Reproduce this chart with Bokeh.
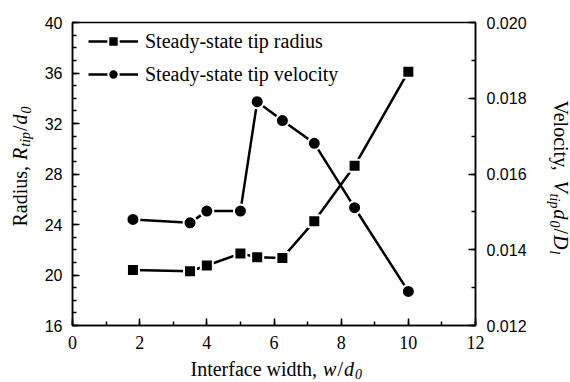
import math
from bokeh.plotting import figure
from bokeh.layouts import row, column
from bokeh.models import (Range1d, LinearAxis, SingleIntervalTicker, NumeralTickFormatter,
                          Label, Legend)
from bokeh.embed import file_html
from bokeh.resources import INLINE

# ---------------- data ----------------
interface_width = [1.8, 3.5, 4.0, 5.0, 5.5, 6.25, 7.2, 8.4, 10.0]
tip_radius = [20.4, 20.3, 20.75, 21.7, 21.4, 21.35, 24.25, 28.65, 36.1]
tip_velocity = [0.0148, 0.01471, 0.01502, 0.01502, 0.01791, 0.01741, 0.01681, 0.01511, 0.01290]
series_names = ["Steady-state tip radius", "Steady-state tip velocity"]

X0, X1 = 0, 12
Y0, Y1 = 16, 40
V0, V1 = 0.012, 0.020

# ---------------- layout (canvas px) ----------------
W, H = 570, 382
SIDE_L, SIDE_R = 40, 40          # strips for the rotated axis titles
MAIN_W = W - SIDE_L - SIDE_R     # 490
MAIN_H = 358
BOT_H = H - MAIN_H               # strip for the x axis title
FL, FR, FT, FB = 72, 475, 22, 325  # frame edges in full-canvas px

SERIF = "Liberation Serif"
SANS = "Liberation Sans"

p = figure(width=MAIN_W, height=MAIN_H, output_backend="svg", toolbar_location=None,
           x_range=Range1d(X0, X1), y_range=Range1d(Y0, Y1), title=None,
           min_border_left=FL - SIDE_L, min_border_right=SIDE_L + MAIN_W - FR,
           min_border_top=FT, min_border_bottom=MAIN_H - FB)
p.extra_y_ranges = {"vel": Range1d(V0, V1)}
p.xgrid.visible = False
p.ygrid.visible = False
p.outline_line_color = "black"
p.outline_line_width = 1.5
p.background_fill_color = "white"
p.border_fill_color = "white"

right_axis = LinearAxis(y_range_name="vel")
p.add_layout(right_axis, "right")

p.xaxis.ticker = SingleIntervalTicker(interval=2, num_minor_ticks=2)
p.yaxis[0].ticker = SingleIntervalTicker(interval=4, num_minor_ticks=4)
right_axis.ticker = SingleIntervalTicker(interval=0.002, num_minor_ticks=2)
right_axis.formatter = NumeralTickFormatter(format="0.000")

for ax in [p.xaxis[0], p.yaxis[0], right_axis]:
    ax.axis_label = None
    ax.axis_line_color = "black"
    ax.axis_line_width = 1.5
    ax.major_tick_line_color = "black"
    ax.minor_tick_line_color = "black"
    ax.major_tick_line_width = 1.5
    ax.minor_tick_line_width = 1.5
    ax.major_tick_in = 7
    ax.major_tick_out = 0
    ax.minor_tick_in = 4
    ax.minor_tick_out = 0
    ax.major_label_text_color = "black"

p.xaxis[0].major_label_text_font = SERIF
p.xaxis[0].major_label_text_font_size = "18px"
p.xaxis[0].major_label_standoff = 10
p.yaxis[0].major_label_text_font = SANS
p.yaxis[0].major_label_text_font_size = "16px"
p.yaxis[0].major_label_standoff = 10
right_axis.major_label_text_font = SANS
right_axis.major_label_text_font_size = "16px"
right_axis.major_label_standoff = 11

# ---------------- series ----------------
lw = 2.5
r_line = p.line(interface_width, tip_radius, line_color="black", line_width=lw)
r_pts = p.scatter(interface_width, tip_radius, marker="square", size=12,
                  fill_color="black", line_color="white", line_width=2)
v_line = p.line(interface_width, tip_velocity, y_range_name="vel",
                line_color="black", line_width=lw)
v_pts = p.scatter(interface_width, tip_velocity, y_range_name="vel", marker="circle",
                  size=13, fill_color="black", line_color="white", line_width=2)

legend = Legend(items=[(series_names[0], [r_line, r_pts]),
                       (series_names[1], [v_line, v_pts])],
                location=(16, 238), margin=0, padding=0,
                glyph_width=50, glyph_height=26, label_height=26,
                spacing=7, label_standoff=7,
                label_text_font=SERIF, label_text_font_size="20px",
                label_text_color="black",
                border_line_alpha=0, background_fill_alpha=0)
p.add_layout(legend, "center")


# ---------------- strips holding the axis titles ----------------
def strip(w, h, b_left, b_right, b_top, b_bottom, cx, cy):
    """A bare figure whose data coordinates equal full-canvas pixels."""
    f = figure(width=w, height=h, output_backend="svg", toolbar_location=None, title=None,
               x_range=Range1d(cx + b_left, cx + w - b_right),
               y_range=Range1d(cy + h - b_bottom, cy + b_top),
               x_axis_type=None, y_axis_type=None, min_border=0,
               min_border_left=b_left, min_border_right=b_right,
               min_border_top=b_top, min_border_bottom=b_bottom)
    f.outline_line_color = None
    f.grid.visible = False
    f.background_fill_color = "white"
    f.border_fill_color = "white"
    return f


left_strip = strip(SIDE_L, H, 0, 0, FT, H - FB, 0, 0)
right_strip = strip(SIDE_R, H, 0, 0, FT, H - FB, W - SIDE_R, 0)
bottom_strip = strip(MAIN_W, BOT_H, FL - SIDE_L, SIDE_L + MAIN_W - FR, 0, 0, SIDE_L, MAIN_H)

REG = {' ': .25, ',': .25, '/': .278, 'R': .667, 'a': .444, 'd': .5, 'i': .278, 'u': .5,
       's': .389, 'I': .333, 'n': .5, 't': .278, 'e': .444, 'r': .333, 'f': .333, 'c': .444,
       'w': .722, 'h': .5, 'V': .722, 'l': .278, 'o': .5, 'y': .5, 'D': .722, 'p': .5, '0': .5}
ITA = {'R': .611, 'd': .5, 'w': .667, 'V': .611, 'D': .722, '/': .278, 't': .278,
       'i': .278, 'p': .5, '0': .5, 'l': .278}

MAIN, SUB = 20, 14
BASE_FIX = 7  # renderer places alphabetic baseline this far "below" the anchor


def tw(s, size, italic):
    tab = ITA if italic else REG
    return sum(tab.get(c, 0.5) for c in s) * size


def rich(fig, segs, start, base, direction, shift=6):
    """direction: 'h' (left->right), 'up' (rotated +90), 'down' (rotated -90)"""
    pos = start
    for text, italic, sub in segs:
        size = SUB if sub else MAIN
        d = (shift if sub else 0) - BASE_FIX
        if direction == "h":
            sx, sy, ang = pos, base + d, 0
        elif direction == "up":
            sx, sy, ang = base + d, pos, math.pi / 2
        else:
            sx, sy, ang = base - d, pos, -math.pi / 2
        fig.add_layout(Label(x=sx, y=sy, text=text.rstrip(), angle=ang,
                             text_font=SERIF, text_font_size=f"{size}px",
                             text_font_style="italic" if italic else "normal",
                             text_color="black", text_align="left",
                             text_baseline="alphabetic"))
        w = tw(text, size, italic) + 1
        pos = pos - w if direction == "up" else pos + w


x_title = [("Interface width, ", False, False), ("w", True, False), ("/", False, False),
           ("d", True, False), ("0", True, True)]
left_title = [("Radius, ", False, False), ("R", True, False), ("tip", True, True),
              ("/", False, False), ("d", True, False), ("0", True, True)]
right_title = [("Velocity, ", False, False), ("V", True, False), ("tip", True, True),
               ("d", True, False), ("0", True, True), ("/", False, False),
               ("D", True, False), ("l", True, True)]

rich(bottom_strip, x_title, 190, 375, "h", shift=5)
rich(left_strip, left_title, 226, 26, "up")
rich(right_strip, right_title, 100, 553, "down")

layout = row(left_strip, column(p, bottom_strip), right_strip)

open("out.html", "w").write(file_html(layout, INLINE))
